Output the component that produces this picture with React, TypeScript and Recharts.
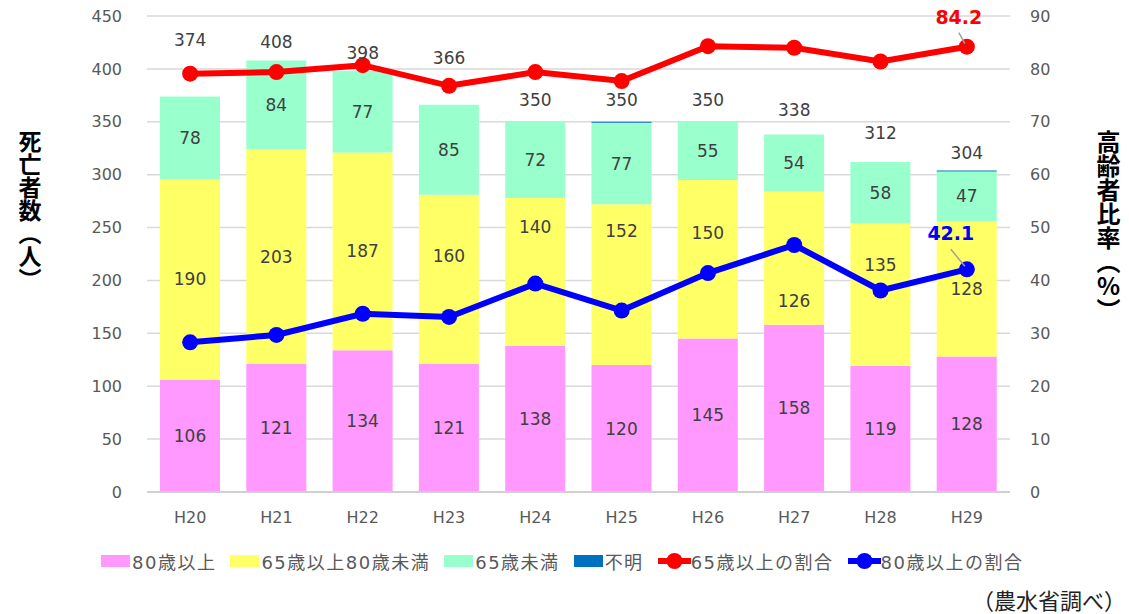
import {
  ComposedChart, Bar, Line, XAxis, YAxis, CartesianGrid, Legend, LabelList,
} from 'recharts';

const years = ['H20', 'H21', 'H22', 'H23', 'H24', 'H25', 'H26', 'H27', 'H28', 'H29'];
const over80 = [106, 121, 134, 121, 138, 120, 145, 158, 119, 128];
const from65to80 = [190, 203, 187, 160, 140, 152, 150, 126, 135, 128];
const under65 = [78, 84, 77, 85, 72, 77, 55, 54, 58, 47];
const unknown = [0, 0, 0, 0, 0, 1, 0, 0, 0, 1];
const totals = [374, 408, 398, 366, 350, 350, 350, 338, 312, 304];
const rate65 = [79.1, 79.4, 80.7, 76.8, 79.4, 77.7, 84.3, 84.0, 81.4, 84.2];
const rate80 = [28.3, 29.7, 33.7, 33.1, 39.4, 34.3, 41.4, 46.7, 38.1, 42.1];

const leftTicks = [0, 50, 100, 150, 200, 250, 300, 350, 400, 450];
const rightTicks = [0, 10, 20, 30, 40, 50, 60, 70, 80, 90];

// labels in the source were nudged by hand to dodge the lines (px)
const totalDy = [-56, -18, -18, -47, -22, -22, -22, -24, -29, -17];
const midDy = [0, 0, 0, -23, -45, -54, -26, 43, -30, 0];

const data = years.map((year, i) => ({
  year,
  over80: over80[i],
  from65to80: from65to80[i],
  under65: under65[i],
  unknown: unknown[i],
  total: totals[i],
  rate65: rate65[i],
  rate80: rate80[i],
}));

const PINK = '#FF99FF';
const YELLOW = '#FFFF66';
const GREEN = '#99FFCC';
const DARKBLUE = '#0070C0';
const RED = '#FF0000';
const BLUE = '#0000FF';
const TEXT = '#404040';
const AXIS = '#595959';

const legendItems = [
  { label: '80歳以上', color: PINK, kind: 'bar' },
  { label: '65歳以上80歳未満', color: YELLOW, kind: 'bar' },
  { label: '65歳未満', color: GREEN, kind: 'bar' },
  { label: '不明', color: DARKBLUE, kind: 'bar' },
  { label: '65歳以上の割合', color: RED, kind: 'line' },
  { label: '80歳以上の割合', color: BLUE, kind: 'line' },
];

const centerLabel = (dys?: number[]) => (p: any) => {
  const vb = p.viewBox || p;
  if (!p.value) return null;
  const dy = dys ? dys[p.index ?? 0] : 0;
  return (
    <text
      x={vb.x + vb.width / 2}
      y={vb.y + vb.height / 2 + dy}
      textAnchor="middle"
      dominantBaseline="central"
      fontSize={17}
      fill={TEXT}
    >
      {p.value}
    </text>
  );
};

const totalLabel = (p: any) => {
  const vb = p.viewBox || p;
  const dy = totalDy[p.index ?? 0];
  return (
    <text x={vb.x} y={vb.y + dy} textAnchor="middle" dominantBaseline="central" fontSize={17} fill={TEXT}>
      {p.value}
    </text>
  );
};

const lastPointLabel = (color: string, dx: number, dy: number) => (p: any) => {
  if (p.index !== years.length - 1) return null;
  const vb = p.viewBox || p;
  const x = vb.x;
  const y = vb.y;
  return (
    <g>
      <line x1={x + dx} y1={y + dy + 9} x2={x - 2} y2={y - 3} stroke="#A0A0A0" strokeWidth={1.5} />
      <text x={x + dx} y={y + dy} textAnchor="middle" fontSize={19} fontWeight="bold" fill={color}>
        {p.value}
      </text>
    </g>
  );
};

function ChartLegend() {
  return (
    <div style={{ display: 'flex', alignItems: 'center', marginLeft: 101, fontSize: 18, color: AXIS, letterSpacing: 1.5 }}>
      {legendItems.map((item) => (
        <div key={item.label} style={{ display: 'flex', alignItems: 'center', marginRight: 14 }}>
          {item.kind === 'bar' ? (
            <span style={{ width: 29, height: 12, background: item.color, marginRight: 2 }} />
          ) : (
            <svg width={33} height={18}>
              <line x1={0} y1={9} x2={33} y2={9} stroke={item.color} strokeWidth={6} />
              <circle cx={16.5} cy={9} r={8} fill={item.color} />
            </svg>
          )}
          <span>{item.label}</span>
        </div>
      ))}
    </div>
  );
}

export default function App() {
  return (
    <div
      style={{
        position: 'relative',
        width: 1129,
        height: 614,
        overflow: 'hidden',
        background: '#fff',
        fontFamily: '"DejaVu Sans", "Noto Sans CJK JP", sans-serif',
      }}
    >
      <style>{'body{margin:0}'}</style>
      <ComposedChart width={1129} height={614} data={data} margin={{ top: 16, right: 0, bottom: 82, left: 0 }}>
        <CartesianGrid yAxisId="left" vertical={false} stroke="#D9D9D9" strokeWidth={1.5} />
        <XAxis
          dataKey="year"
          height={40}
          tickLine={false}
          tickSize={0}
          tickMargin={20}
          axisLine={{ stroke: '#D0D0D0', strokeWidth: 2 }}
          tick={{ fontSize: 16, fill: AXIS }}
        />
        <YAxis
          yAxisId="left"
          width={147}
          domain={[0, 450]}
          ticks={leftTicks}
          axisLine={false}
          tickLine={false}
          tickSize={0}
          tickMargin={25}
          tick={{ fontSize: 16, fill: AXIS }}
        />
        <YAxis
          yAxisId="right"
          orientation="right"
          width={119}
          domain={[0, 90]}
          ticks={rightTicks}
          axisLine={false}
          tickLine={false}
          tickSize={0}
          tickMargin={20}
          tick={{ fontSize: 16, fill: AXIS, textAnchor: 'start' }}
        />
        <Legend
          layout="horizontal"
          align="center"
          verticalAlign="middle"
          wrapperStyle={{ top: 548, left: 0, width: 1129 }}
          content={() => <ChartLegend />}
        />
        <Bar yAxisId="left" dataKey="over80" stackId="a" fill={PINK} barSize={60} isAnimationActive={false}>
          <LabelList dataKey="over80" content={centerLabel()} />
        </Bar>
        <Bar yAxisId="left" dataKey="from65to80" stackId="a" fill={YELLOW} barSize={60} isAnimationActive={false}>
          <LabelList dataKey="from65to80" content={centerLabel(midDy)} />
        </Bar>
        <Bar yAxisId="left" dataKey="under65" stackId="a" fill={GREEN} barSize={60} isAnimationActive={false}>
          <LabelList dataKey="under65" content={centerLabel()} />
        </Bar>
        <Bar yAxisId="left" dataKey="unknown" stackId="a" fill={DARKBLUE} barSize={60} isAnimationActive={false} />
        <Line
          yAxisId="left"
          dataKey="total"
          stroke="none"
          strokeOpacity={0}
          dot={false}
          activeDot={false}
          legendType="none"
          isAnimationActive={false}
        >
          <LabelList dataKey="total" content={totalLabel} />
        </Line>
        <Line
          yAxisId="right"
          dataKey="rate65"
          stroke={RED}
          strokeWidth={6}
          dot={{ r: 8, fill: RED, stroke: RED, strokeWidth: 0 }}
          activeDot={false}
          isAnimationActive={false}
        >
          <LabelList dataKey="rate65" content={lastPointLabel(RED, -8, -23)} />
        </Line>
        <Line
          yAxisId="right"
          dataKey="rate80"
          stroke={BLUE}
          strokeWidth={6}
          dot={{ r: 8, fill: BLUE, stroke: BLUE, strokeWidth: 0 }}
          activeDot={false}
          isAnimationActive={false}
        >
          <LabelList dataKey="rate80" content={lastPointLabel(BLUE, -16, -29)} />
        </Line>
      </ComposedChart>
      <div
        style={{
          position: 'absolute', left: 18, top: 130, writingMode: 'vertical-rl', textOrientation: 'upright',
          fontSize: 23, fontWeight: 700, color: '#000', fontFamily: '"Noto Sans CJK JP", sans-serif', lineHeight: 1,
        }}
      >
        死亡者数（人）
      </div>
      <div
        style={{
          position: 'absolute', left: 1096, top: 130, writingMode: 'vertical-rl', textOrientation: 'upright',
          fontSize: 24, fontWeight: 700, color: '#000', fontFamily: '"Noto Sans CJK JP", sans-serif', lineHeight: 1,
        }}
      >
        高齢者比率（%）
      </div>
      <div
        style={{
          position: 'absolute', left: 972, top: 586, whiteSpace: 'nowrap', fontSize: 22, color: '#222',
          fontFamily: '"Noto Sans CJK JP", sans-serif', lineHeight: 1.2,
        }}
      >
        （農水省調べ）
      </div>
    </div>
  );
}
